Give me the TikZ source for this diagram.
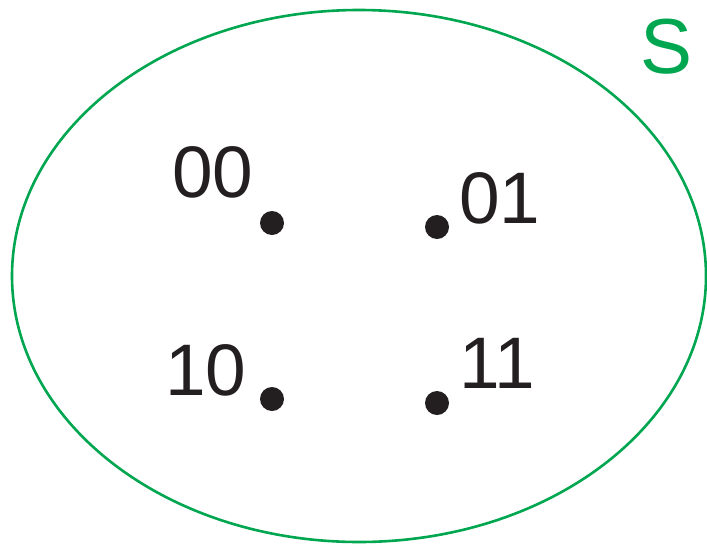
\documentclass[tikz,border=0pt]{standalone}
\usepackage{fontspec}
\setmainfont{Liberation Sans}
\definecolor{setgreen}{RGB}{0,166,80}
\definecolor{inkblack}{RGB}{35,31,32}
\tikzset{
  pt/.style={circle,fill=inkblack,inner sep=0pt,minimum size=24pt},
  lbl/.style={anchor=base west,inner sep=0pt,text=inkblack,font=\fontsize{73}{80}\selectfont},
}
\begin{document}
\begin{tikzpicture}[x=1pt,y=-1pt]
\useasboundingbox (0,0) rectangle (707,544);
\draw[setgreen,line width=2.6pt] (359,276) ellipse [x radius=347, y radius=266];
\node[anchor=base west,inner sep=0pt,text=setgreen,font=\fontsize{78}{84}\selectfont] (S) at (640,73) {S};
\node[pt] (p00) at (272,223) {};
\node[pt] (p01) at (437,227) {};
\node[pt] (p10) at (272,399) {};
\node[pt] (p11) at (437,403) {};
\node[lbl] (l00) at (172,197) {00};
\node[lbl] (l01) at (459,223) {01};
\node[lbl] (l10) at (165,395) {10};
\node[lbl] (l11) at (459,388) {11};
\end{tikzpicture}
\end{document}
